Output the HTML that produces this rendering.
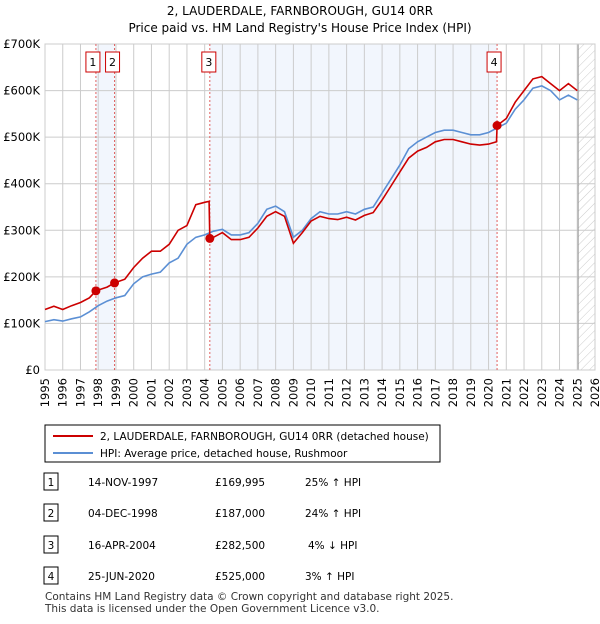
<!DOCTYPE html>
<html><head><meta charset="utf-8"><style>
body{margin:0;width:600px;height:620px;background:#fff;font-family:"DejaVu Sans","Liberation Sans",sans-serif;overflow:hidden}
svg text{font-family:"DejaVu Sans","Liberation Sans",sans-serif}
</style></head><body>
<svg id="c" width="600" height="620" xmlns="http://www.w3.org/2000/svg">
<defs><pattern id="hatch" width="6" height="6" patternUnits="userSpaceOnUse" patternTransform="rotate(45)"><line x1="0" y1="0" x2="0" y2="6" stroke="#ccc" stroke-width="1"/></pattern></defs>
<text x="300" y="15" text-anchor="middle" font-size="12">2, LAUDERDALE, FARNBOROUGH, GU14 0RR</text>
<text x="300" y="32" text-anchor="middle" font-size="12">Price paid vs. HM Land Registry's House Price Index (HPI)</text>
<g id="plot"></g>
<g>
<rect x="45" y="425" width="395" height="37" fill="#fff" stroke="#000" stroke-width="1"/>
<line x1="53" y1="436" x2="93" y2="436" stroke="#cc0000" stroke-width="2"/>
<text x="100" y="440" font-size="10.5">2, LAUDERDALE, FARNBOROUGH, GU14 0RR (detached house)</text>
<line x1="53" y1="453" x2="93" y2="453" stroke="#5b8fd4" stroke-width="2"/>
<text x="100" y="457" font-size="10.5">HPI: Average price, detached house, Rushmoor</text>
</g>
<g id="table" font-size="10.5"></g>
<text x="45" y="600" font-size="10.5" fill="#333">Contains HM Land Registry data © Crown copyright and database right 2025.</text>
<text x="45" y="612" font-size="10.5" fill="#333">This data is licensed under the Open Government Licence v3.0.</text>
</svg>
<script>
const hpiYears=[1995,1995.5,1996,1996.5,1997,1997.5,1998,1998.5,1999,1999.5,2000,2000.5,2001,2001.5,2002,2002.5,2003,2003.5,2004,2004.5,2005,2005.5,2006,2006.5,2007,2007.5,2008,2008.5,2009,2009.5,2010,2010.5,2011,2011.5,2012,2012.5,2013,2013.5,2014,2014.5,2015,2015.5,2016,2016.5,2017,2017.5,2018,2018.5,2019,2019.5,2020,2020.5,2021,2021.5,2022,2022.5,2023,2023.5,2024,2024.5,2025];
const hpiValues=[104,108,105,110,114,125,138,148,155,160,185,200,206,210,230,240,270,285,290,298,302,290,290,295,315,345,352,340,285,300,325,340,335,335,340,335,345,350,380,410,440,475,490,500,510,515,515,510,505,505,510,520,530,560,580,605,610,600,580,590,580];
const priceYears=[1995,1995.5,1996,1996.5,1997,1997.5,1997.87,1998.5,1998.92,1999.5,2000,2000.5,2001,2001.5,2002,2002.5,2003,2003.5,2004,2004.25,2004.29,2004.5,2005,2005.5,2006,2006.5,2007,2007.5,2008,2008.5,2009,2009.5,2010,2010.5,2011,2011.5,2012,2012.5,2013,2013.5,2014,2014.5,2015,2015.5,2016,2016.5,2017,2017.5,2018,2018.5,2019,2019.5,2020,2020.45,2020.48,2021,2021.5,2022,2022.5,2023,2023.5,2024,2024.5,2025];
const priceValues=[130,137,130,138,145,155,170,178,187,195,220,240,255,255,270,300,310,355,360,362,282.5,285,295,280,280,285,305,330,340,330,272,295,320,330,325,323,328,322,332,338,365,395,425,455,470,478,490,495,495,490,485,483,485,490,525,540,575,600,625,630,615,600,615,600];
const saleLabels=["1","2","3","4"];
const saleYears=[1997.87,1998.92,2004.29,2020.48];
const saleValues=[169.995,187,282.5,525];
const saleDates=["14-NOV-1997","04-DEC-1998","16-APR-2004","25-JUN-2020"];
const salePrices=["£169,995","£187,000","£282,500","£525,000"];
const saleHpi=["25% ↑ HPI","24% ↑ HPI","4% ↓ HPI","3% ↑ HPI"];
const yTicks=[0,100,200,300,400,500,600,700];
const yTickLabels=["£0","£100K","£200K","£300K","£400K","£500K","£600K","£700K"];
const xTicks=[1995,1996,1997,1998,1999,2000,2001,2002,2003,2004,2005,2006,2007,2008,2009,2010,2011,2012,2013,2014,2015,2016,2017,2018,2019,2020,2021,2022,2023,2024,2025,2026];

const NS="http://www.w3.org/2000/svg";
const X0=45,X1=595,Y0=370,Y1=44;
const xs=y=>X0+(y-1995)/(2026-1995)*(X1-X0);
const ys=v=>Y0-v/700*(Y0-Y1);
const plot=document.getElementById('plot');
function mk(t,a,p){const e=document.createElementNS(NS,t);for(const k in a)e.setAttribute(k,a[k]);(p||plot).appendChild(e);return e;}
let r;
r=mk('rect',{x:xs(saleYears[0]),y:Y1,width:xs(saleYears[1])-xs(saleYears[0]),height:Y0-Y1,fill:'#f2f6fd'});


r=mk('rect',{x:xs(saleYears[2]),y:Y1,width:xs(saleYears[3])-xs(saleYears[2]),height:Y0-Y1,fill:'#f2f6fd'});


r=mk('rect',{x:xs(2025.05),y:Y1,width:X1-xs(2025.05),height:Y0-Y1,fill:'url(#hatch)'});


yTicks.forEach((v,i)=>{
 const l=mk('line',{x1:X0,x2:X1,y1:ys(v),y2:ys(v),stroke:'#ccc','stroke-width':1});
 
 
 const t=mk('text',{x:X0-5,y:ys(v)+4,'text-anchor':'end','font-size':11.5});
 t.textContent=yTickLabels[i];
 
 
});
xTicks.forEach(y=>{
 const l=mk('line',{x1:xs(y),x2:xs(y),y1:Y1,y2:Y0,stroke:'#ccc','stroke-width':1});
 
 
 const tx=xs(y)+4,ty=Y0+8;
 const t=mk('text',{x:tx,y:ty,'text-anchor':'end','font-size':11.5,transform:'rotate(-90 '+tx+' '+ty+')'});
 t.textContent=y;
 
 
});
r=mk('line',{x1:xs(2025.05),x2:xs(2025.05),y1:Y1,y2:Y0,stroke:'#999','stroke-width':1});


r=mk('rect',{x:X0,y:Y1,width:X1-X0,height:Y0-Y1,fill:'none',stroke:'#ccc'});


const boxOff=[-10,-9,-8,-10];
saleYears.forEach((y,i)=>{
 const l=mk('line',{x1:xs(y),x2:xs(y),y1:Y1,y2:Y0,stroke:'#e06060','stroke-width':1,'stroke-dasharray':'2,2'});
 
 
 const bx=mk('rect',{x:xs(y)+boxOff[i],y:52,width:14,height:20,fill:'#fff',stroke:'#cc0000'});
 
 
 const t=mk('text',{x:xs(y)+boxOff[i]+7,y:66,'text-anchor':'middle','font-size':11});
 t.textContent=saleLabels[i];
 
 
});
function path(xa,va,col,name){
 const d=xa.map((y,i)=>(i?'L':'M')+xs(y).toFixed(1)+','+ys(va[i]).toFixed(1)).join('');
 const p=mk('path',{d:d,fill:'none',stroke:col,'stroke-width':1.6});
 
 
}
path(hpiYears,hpiValues,'#5b8fd4','hpi-line');
path(priceYears,priceValues,'#cc0000','price-paid-line');
saleYears.forEach((y,i)=>{
 const c=mk('circle',{cx:xs(y),cy:ys(saleValues[i]),r:4.5,fill:'#cc0000'});
 
 
});
const tb=document.getElementById('table');
const rowY=[482,513,545,576];
saleLabels.forEach((l,i)=>{
 const y=rowY[i];
 const b=mk('rect',{x:44,y:y-9,width:14,height:17,fill:'#fff',stroke:'#000'},tb);
 
 
 const cells=[[51,l,'middle'],[88,saleDates[i],'start'],[215,salePrices[i],'start'],[305,saleHpi[i],'start']];
 if(i==2)cells[3][0]=308;
 cells.forEach(c=>{
  const t=mk('text',{x:c[0],y:y+4,'text-anchor':c[2],'font-size':10.5},tb);
  t.textContent=c[1];
  
  
 });
});
</script>
</body></html>
